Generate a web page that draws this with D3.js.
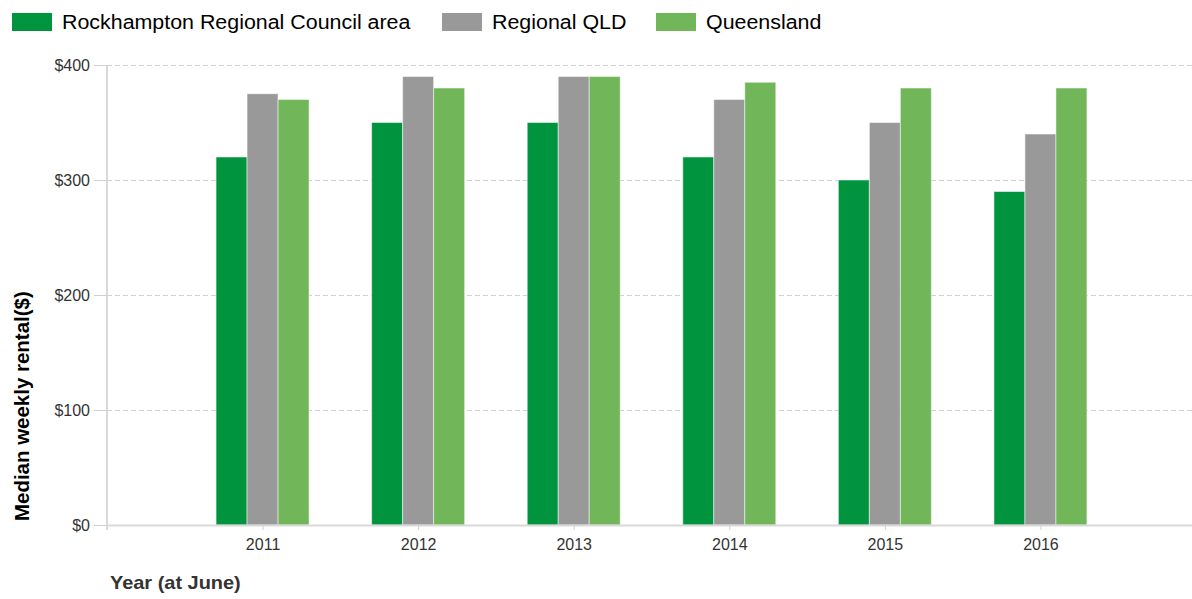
<!DOCTYPE html>
<html>
<head>
<meta charset="utf-8">
<script src="https://cdn.jsdelivr.net/npm/d3@7"></script>
<style>
  body { margin: 0; background: #fff; }
  svg { display: block; font-family: "Liberation Sans", Arial, sans-serif; }
</style>
</head>
<body>
<div id="chart"></div>
<script>
// data
const years = ["2011", "2012", "2013", "2014", "2015", "2016"];
const seriesNames = ["Rockhampton Regional Council area", "Regional QLD", "Queensland"];
const rockhampton = [320, 350, 350, 320, 300, 290];
const regionalQld = [375, 390, 390, 370, 350, 340];
const queensland = [370, 380, 390, 385, 380, 380];
const yTicks = [0, 100, 200, 300, 400];

const colors = ["#00943e", "#999999", "#72b65a"];
const seriesValues = [rockhampton, regionalQld, queensland];

const W = 1192, H = 599;
const margin = { top: 65, right: 0, bottom: 74, left: 107 };
const width = 1196 - margin.left;
const height = H - margin.top - margin.bottom;

const svg = d3.select("#chart")
  .append("svg")
  .attr("width", W)
  .attr("height", H);

const g = svg.append("g")
  .attr("transform", "translate(" + margin.left + "," + margin.top + ")");

// scales
const xScale = d3.scalePoint()
  .domain(years)
  .range([0, width])
  .padding(1);

const barW = 31;
const xSub = d3.scaleBand()
  .domain(d3.range(seriesNames.length))
  .range([-barW * 1.5, barW * 1.5]);

const yScale = d3.scaleLinear()
  .domain([0, 400])
  .range([height, 0]);

// gridlines
g.append("g")
  .selectAll("line")
  .data(yTicks.filter(d => d > 0))
  .enter().append("line")
  .attr("x1", 0)
  .attr("x2", width)
  .attr("y1", d => yScale(d) + 0.5)
  .attr("y2", d => yScale(d) + 0.5)
  .attr("stroke", "#d0d0d0")
  .attr("stroke-dasharray", "5,3");

// y axis
const yAxis = g.append("g")
  .call(d3.axisLeft(yScale).tickValues(yTicks).tickSize(13).tickPadding(4)
    .tickFormat(d => "$" + d));
yAxis.select(".domain").attr("stroke", "#d9d9d9").attr("stroke-width", 2)
  .attr("d", "M0,0V" + (height + 5));
yAxis.selectAll(".tick line").attr("stroke", "#d0d0d0");
yAxis.selectAll(".tick text")
  .attr("fill", "#333")
  .style("font-size", "16px")
  .style("font-family", "Liberation Sans, Arial, sans-serif");

// bars
const groups = g.selectAll(".year")
  .data(years)
  .enter().append("g")
  .attr("class", "year")
  .attr("transform", d => "translate(" + xScale(d) + ",0)");

groups.selectAll("rect")
  .data((d, i) => seriesValues.map((s, k) => ({ k: k, v: s[i] })))
  .enter().append("rect")
  .attr("x", d => xSub(d.k))
  .attr("width", xSub.bandwidth())
  .attr("y", d => yScale(d.v))
  .attr("height", d => height - yScale(d.v))
  .attr("fill", d => colors[d.k])
  .attr("stroke", "#ffffff")
  .attr("stroke-opacity", 0.5)
  .attr("stroke-width", 1);

// x axis
const xAxis = g.append("g")
  .attr("transform", "translate(0," + height + ")")
  .call(d3.axisBottom(xScale).tickSize(5).tickPadding(9).tickSizeOuter(0));
xAxis.select(".domain").attr("stroke", "#d9d9d9").attr("stroke-width", 2);
xAxis.selectAll(".tick line").attr("stroke", "#d0d0d0");
xAxis.selectAll(".tick text")
  .attr("fill", "#333")
  .style("font-size", "16px")
  .style("font-family", "Liberation Sans, Arial, sans-serif");

// axis titles
svg.append("text")
  .attr("transform", "translate(29,521) rotate(-90) scale(1.05,1)")
  .attr("text-anchor", "start")
  .attr("fill", "#000")
  .style("font-size", "19.5px")
  .style("font-weight", "bold")
  .text("Median weekly rental($)");

svg.append("text")
  .attr("transform", "translate(110,589) scale(1.05,1)")
  .attr("fill", "#333")
  .style("font-size", "19px")
  .style("font-weight", "bold")
  .text("Year (at June)");

// legend
const legendX = [12, 442, 656];
const legend = svg.selectAll(".legend")
  .data(seriesNames)
  .enter().append("g")
  .attr("class", "legend")
  .attr("transform", (d, i) => "translate(" + legendX[i] + ",13)");

legend.append("rect")
  .attr("width", 40)
  .attr("height", 18)
  .attr("fill", (d, i) => colors[i]);

legend.append("text")
  .attr("transform", "translate(50,16) scale(1.07,1)")
  .attr("fill", "#000")
  .style("font-size", "20px")
  .text(d => d);
</script>
</body>
</html>
